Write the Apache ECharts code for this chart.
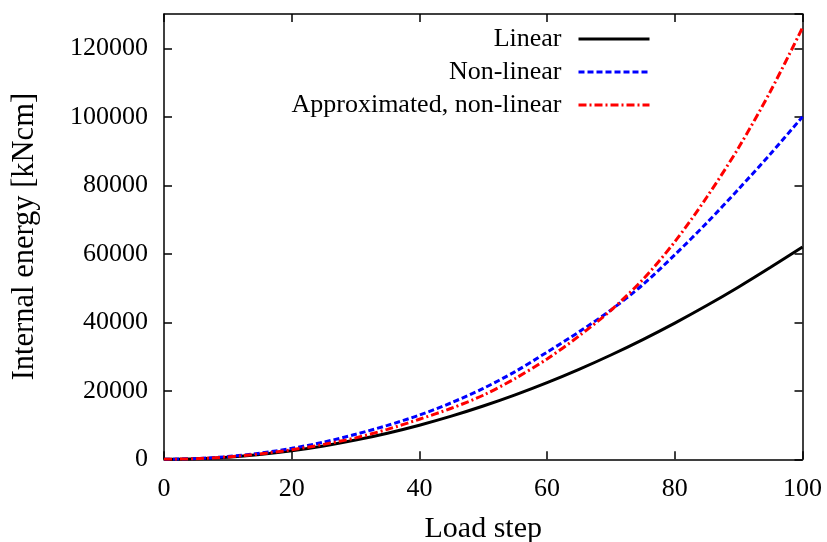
<!DOCTYPE html>
<html>
<head>
<meta charset="utf-8">
<script src="https://cdn.jsdelivr.net/npm/echarts@6/dist/echarts.min.js"></script>
<style>
  html, body { margin: 0; padding: 0; background: #fff; }
  #chart { width: 827px; height: 542px; }
</style>
</head>
<body>
<div id="chart"></div>
<script>
// Load steps sampled every 5 steps
const loadSteps = [0, 5, 10, 15, 20, 25, 30, 35, 40, 45, 50, 55, 60, 65, 70, 75, 80, 85, 90, 95, 100];

// Internal energy [kNcm] per load step
const linearEnergy = [0, 160, 630, 1410, 2500, 3900, 5610, 7630, 9960, 12600, 15550, 18810, 22380, 26260, 30450, 34950, 39760, 44880, 50310, 56050, 62000];
const nonLinearEnergy = [0, 200, 800, 1800, 3200, 5000, 7300, 9900, 12900, 16500, 20700, 25600, 31300, 37200, 43600, 51000, 59700, 69000, 78900, 89200, 100000];
const approxEnergy = [0, 170, 700, 1580, 2780, 4350, 6250, 8750, 11700, 14900, 18700, 23600, 29300, 36000, 43500, 52500, 63500, 76500, 91000, 107500, 126000];

const seriesNames = ['Linear', 'Non-linear', 'Approximated, non-linear'];
const xTicks = { min: 0, max: 100, interval: 20 };
const yTicks = { min: 0, max: 130000, interval: 20000 };

const serif = '"Liberation Serif", "DejaVu Serif", serif';

function pairs(values) {
  return loadSteps.map((x, i) => [x, values[i]]);
}

const chart = echarts.init(document.getElementById('chart'), null, { renderer: 'canvas' });

const axisLineStyle = { color: '#000', width: 1.5 };

// One legend block per series, right-aligned so the samples line up
function legendItem(name, top) {
  return {
    data: [name],
    orient: 'horizontal',
    align: 'right',
    right: 176,
    top: top,
    padding: 0,
    itemWidth: 71,
    itemHeight: 2,
    selectedMode: false,
    itemStyle: { opacity: 0 },
    lineStyle: { width: 3 },
    textStyle: { fontFamily: serif, fontSize: 26, color: '#000', padding: [0, 12, 0, 0] }
  };
}

// Mirror axis (top / right) carrying only the frame line and inward ticks
function mirrorAxis(position, range) {
  return {
    type: 'value', position: position,
    min: range.min, max: range.max, interval: range.interval,
    axisLine: { show: true, onZero: false, lineStyle: axisLineStyle },
    axisTick: { show: true, inside: true, length: 8, lineStyle: axisLineStyle },
    axisLabel: { show: false },
    splitLine: { show: false }
  };
}

chart.setOption({
  animation: false,
  backgroundColor: '#fff',
  grid: {
    left: 164, right: 24.5, top: 14, bottom: 82.7,
    containLabel: false,
    outerBoundsMode: 'none'
  },
  legend: [
    legendItem(seriesNames[0], 26),
    legendItem(seriesNames[1], 59),
    legendItem(seriesNames[2], 92)
  ],
  xAxis: [
    {
      type: 'value',
      min: xTicks.min, max: xTicks.max, interval: xTicks.interval,
      name: 'Load step',
      nameLocation: 'middle',
      nameGap: 55,
      nameTextStyle: { fontFamily: serif, fontSize: 30, color: '#000' },
      axisLine: { show: true, onZero: false, lineStyle: axisLineStyle },
      axisTick: { show: true, inside: true, length: 8, lineStyle: axisLineStyle },
      axisLabel: { fontFamily: serif, fontSize: 26, color: '#000', margin: 17 },
      splitLine: { show: false }
    },
    mirrorAxis('top', xTicks)
  ],
  yAxis: [
    {
      type: 'value',
      min: yTicks.min, max: yTicks.max, interval: yTicks.interval,
      name: 'Internal energy [kNcm]',
      nameLocation: 'middle',
      nameGap: 124,
      nameRotate: 90,
      nameTextStyle: { fontFamily: serif, fontSize: 30.5, color: '#000' },
      axisLine: { show: true, onZero: false, lineStyle: axisLineStyle },
      axisTick: { show: true, inside: true, length: 8, lineStyle: axisLineStyle },
      axisLabel: {
        fontFamily: serif, fontSize: 26, color: '#000', margin: 16,
        showMaxLabel: false,
        formatter: v => String(v)
      },
      splitLine: { show: false }
    },
    mirrorAxis('right', yTicks)
  ],
  series: [
    {
      name: seriesNames[0], type: 'line', smooth: 0.3,
      showSymbol: false, symbol: 'none',
      data: pairs(linearEnergy),
      color: '#000',
      lineStyle: { color: '#000', width: 3, type: 'solid' }
    },
    {
      name: seriesNames[1], type: 'line', smooth: 0.3,
      showSymbol: false, symbol: 'none',
      data: pairs(nonLinearEnergy),
      color: '#0000ff',
      lineStyle: { color: '#0000ff', width: 3, type: [6, 3] }
    },
    {
      name: seriesNames[2], type: 'line', smooth: 0.3,
      showSymbol: false, symbol: 'none',
      data: pairs(approxEnergy),
      color: '#ff0000',
      lineStyle: { color: '#ff0000', width: 3, type: [8, 3, 2, 3] }
    }
  ]
});
</script>
</body>
</html>
